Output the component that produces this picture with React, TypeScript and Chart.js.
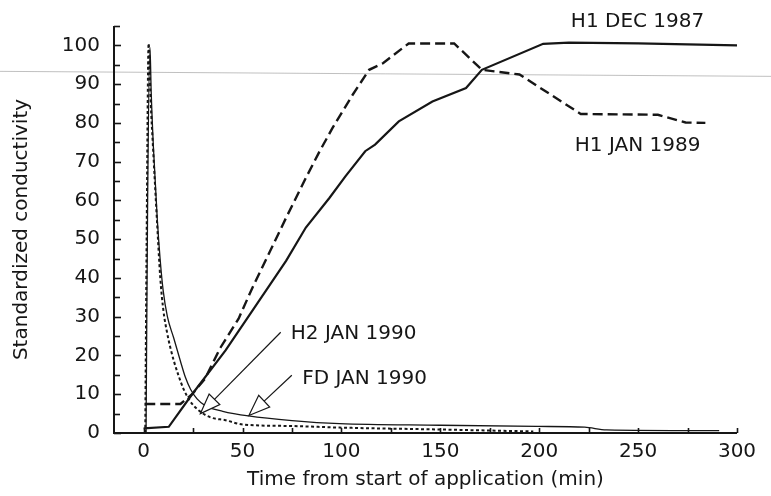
import { useEffect, useRef } from "react";
import { Chart, registerables } from "chart.js";

Chart.register(...registerables);

// ---- Data ----
const h1DecTime = [0, 12.7, 24.5, 41.4, 72, 82, 94, 102, 112, 117, 129, 146, 163, 171, 202, 215, 250, 300];
const h1DecValue = [1.2, 1.6, 10, 21.3, 44.4, 53, 60.7, 66.2, 72.7, 74.4, 80.4, 85.5, 89, 93.7, 100.4, 100.7, 100.5, 100];

const h1JanTime = [0.8, 18.6, 24.5, 31, 38.8, 48, 55, 72, 82, 89, 95.5, 105.6, 114, 121, 134, 157, 171, 190, 221, 260, 274, 284];
const h1JanValue = [7.5, 7.5, 10, 14, 22, 29.5, 37.5, 55.5, 65.8, 72.7, 78.7, 87.2, 93.7, 95.4, 100.5, 100.5, 93.7, 92.5, 82.3, 82.1, 80.1, 80];

const h2Time = [0.8, 1.5, 2.5, 3.5, 4.9, 6.7, 8.4, 10, 11.8, 13.5, 15.2, 17.5, 20.3, 23.5, 27.9, 34, 41.4, 50, 75, 99, 150, 197];
const h2Value = [0, 50, 100.5, 86, 72, 55, 40, 31.5, 26, 22, 18.7, 15, 11.2, 8.2, 5.8, 4, 3.3, 2.2, 1.8, 1.4, 0.9, 0.4];

const fdTime = [1.2, 2, 3.2, 3.8, 4.9, 6.9, 8.3, 9.8, 12, 15.2, 18.6, 21, 23.7, 27, 31.3, 40, 53, 75, 99, 150, 199, 223, 234, 291];
const fdValue = [0, 60, 99.5, 88, 74, 55, 45, 37, 30, 24.5, 18.5, 14.5, 11.3, 8.8, 7, 5.6, 4.4, 3.2, 2.4, 2, 1.7, 1.5, 0.8, 0.6];

const xTickValues = [0, 25, 50, 75, 100, 125, 150, 175, 200, 225, 250, 275, 300];
const yTickValues = [0, 5, 10, 15, 20, 25, 30, 35, 40, 45, 50, 55, 60, 65, 70, 75, 80, 85, 90, 95, 100, 105];
const xLabelStep = 50;
const yLabelStep = 10;

const xMin = -15;
const xMax = 300;
const yMin = 0;
const yMax = 105;

const seriesLabels = ["H1 DEC 1987", "H1 JAN 1989", "H2 JAN 1990", "FD JAN 1990"];

const FONT = "'DejaVu Sans', 'Liberation Sans', sans-serif";
const INK = "#161616";

function zip(t: number[], v: number[]) {
  return t.map((x, i) => ({ x, y: v[i] }));
}

const decorPlugin = {
  id: "decor",
  beforeDatasetsDraw(chart: any) {
    // faint scan line across the page
    const { ctx, scales } = chart;
    const py = scales.y.getPixelForValue(93.3);
    ctx.save();
    ctx.strokeStyle = "rgba(150,150,150,0.6)";
    ctx.lineWidth = 1;
    ctx.beginPath();
    ctx.moveTo(0, py);
    ctx.lineTo(chart.width, py + 5);
    ctx.stroke();
    ctx.restore();
  },
  afterDraw(chart: any) {
    const { ctx, chartArea, scales } = chart;
    const xs = scales.x;
    const ys = scales.y;
    ctx.save();
    ctx.strokeStyle = INK;
    ctx.lineWidth = 2;
    ctx.lineCap = "butt";
    // axes
    ctx.beginPath();
    ctx.moveTo(chartArea.left, chartArea.top);
    ctx.lineTo(chartArea.left, chartArea.bottom);
    ctx.lineTo(chartArea.right, chartArea.bottom);
    ctx.stroke();
    // y ticks (inward)
    ctx.lineWidth = 1.6;
    yTickValues.forEach((v) => {
      const py = Math.round(ys.getPixelForValue(v)) + 0.5;
      const len = v % yLabelStep === 0 ? 7 : 6;
      ctx.beginPath();
      ctx.moveTo(chartArea.left, py);
      ctx.lineTo(chartArea.left + len, py);
      ctx.stroke();
    });
    // x ticks (inward)
    xTickValues.forEach((t) => {
      const px = Math.round(xs.getPixelForValue(t)) + 0.5;
      ctx.beginPath();
      ctx.moveTo(px, chartArea.bottom);
      ctx.lineTo(px, chartArea.bottom - 5);
      ctx.stroke();
    });

    // labels
    ctx.fillStyle = INK;
    ctx.font = `20px ${FONT}`;
    ctx.textAlign = "left";
    ctx.textBaseline = "middle";
    const labelPos = [
      [216, 106.1],
      [218, 74.2],
      [74.4, 25.7],
      [80.2, 13.9],
    ];
    seriesLabels.forEach((txt, i) => {
      ctx.fillText(txt, xs.getPixelForValue(labelPos[i][0]), ys.getPixelForValue(labelPos[i][1]));
    });

    // arrows
    const arrows = [
      { tip: [28.7, 5], start: [69.3, 26], head: 20, hw: 7.5 },
      { tip: [53.2, 4.5], start: [74.9, 14.9], head: 21, hw: 8 },
    ];
    ctx.lineWidth = 1.2;
    ctx.strokeStyle = INK;
    arrows.forEach((a) => {
      const tx = xs.getPixelForValue(a.tip[0]);
      const ty = ys.getPixelForValue(a.tip[1]);
      const sx = xs.getPixelForValue(a.start[0]);
      const sy = ys.getPixelForValue(a.start[1]);
      const dx = sx - tx;
      const dy = sy - ty;
      const L = Math.hypot(dx, dy);
      const ux = dx / L;
      const uy = dy / L;
      const bx = tx + ux * a.head;
      const by = ty + uy * a.head;
      const nx = -uy;
      const ny = ux;
      ctx.beginPath();
      ctx.moveTo(bx, by);
      ctx.lineTo(sx, sy);
      ctx.stroke();
      ctx.beginPath();
      ctx.moveTo(tx, ty);
      ctx.lineTo(bx + nx * a.hw, by + ny * a.hw);
      ctx.lineTo(bx - nx * a.hw, by - ny * a.hw);
      ctx.closePath();
      ctx.fillStyle = "#fff";
      ctx.fill();
      ctx.stroke();
    });
    ctx.restore();
  },
};

export default function App() {
  const canvasRef = useRef<HTMLCanvasElement | null>(null);

  useEffect(() => {
    if (!canvasRef.current) return;
    const chart = new Chart(canvasRef.current, {
      type: "line",
      data: {
        datasets: [
          {
            label: seriesLabels[0],
            data: zip(h1DecTime, h1DecValue),
            borderColor: INK,
            borderWidth: 2.2,
            pointRadius: 0,
            tension: 0,
          },
          {
            label: seriesLabels[1],
            data: zip(h1JanTime, h1JanValue),
            borderColor: INK,
            borderWidth: 2.4,
            borderDash: [10, 5],
            pointRadius: 0,
            tension: 0,
          },
          {
            label: seriesLabels[2],
            data: zip(h2Time, h2Value),
            borderColor: INK,
            borderWidth: 2,
            borderDash: [3, 2.5],
            pointRadius: 0,
            cubicInterpolationMode: "monotone",
          },
          {
            label: seriesLabels[3],
            data: zip(fdTime, fdValue),
            borderColor: INK,
            borderWidth: 1.3,
            pointRadius: 0,
            cubicInterpolationMode: "monotone",
          },
        ],
      },
      options: {
        animation: false,
        responsive: true,
        maintainAspectRatio: false,
        layout: { padding: { left: 0, top: 23, right: 34, bottom: 0 } },
        plugins: {
          legend: { display: false },
          tooltip: { enabled: false },
        },
        scales: {
          x: {
            type: "linear",
            min: xMin,
            max: xMax,
            grid: { display: false, drawTicks: false },
            border: { display: false },
            afterBuildTicks: (scale: any) => {
              scale.ticks = xTickValues.map((value) => ({ value }));
            },
            ticks: {
              autoSkip: false,
              maxRotation: 0,
              padding: 7,
              color: INK,
              font: { family: FONT, size: 20 },
              callback: (v: any) => (Number(v) % xLabelStep === 0 ? String(v) : ""),
            },
            title: {
              display: true,
              text: "Time from start of application (min)",
              color: INK,
              font: { family: FONT, size: 20 },
              padding: { top: 0, bottom: 4 },
            },
            afterFit: (scale: any) => {
              scale.height = 63;
            },
          },
          y: {
            type: "linear",
            min: yMin,
            max: yMax,
            grid: { display: false, drawTicks: false },
            border: { display: false },
            afterBuildTicks: (scale: any) => {
              scale.ticks = yTickValues.map((value) => ({ value }));
            },
            ticks: {
              autoSkip: false,
              padding: 14,
              color: INK,
              font: { family: FONT, size: 20 },
              callback: (v: any) => (Number(v) % yLabelStep === 0 && Number(v) <= 100 ? String(v) : ""),
            },
            title: {
              display: true,
              text: "Standardized conductivity",
              color: INK,
              font: { family: FONT, size: 20 },
              padding: { top: 10, bottom: 0 },
            },
            afterFit: (scale: any) => {
              scale.width = 114;
            },
          },
        },
      },
      plugins: [decorPlugin],
    });
    return () => chart.destroy();
  }, []);

  return (
    <div style={{ position: "fixed", left: 0, top: 0, width: 771, height: 496, background: "#fff" }}>
      <canvas ref={canvasRef} />
    </div>
  );
}
